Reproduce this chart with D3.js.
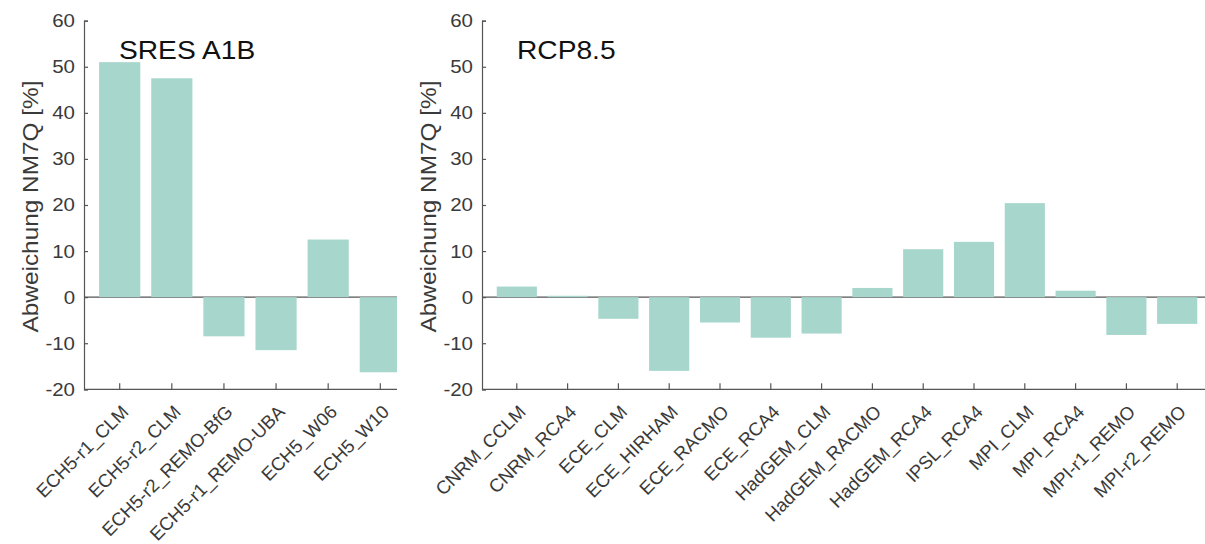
<!DOCTYPE html>
<html>
<head>
<meta charset="utf-8">
<script src="https://cdn.jsdelivr.net/npm/d3@7"></script>
<style>
  html, body { margin: 0; padding: 0; background: #fff; }
  svg { display: block; font-family: "Liberation Sans", Arial, sans-serif; }
</style>
</head>
<body>
<svg id="chart" width="1205" height="544"></svg>
<script>
// ---- data ----
const leftCategories = ["ECH5-r1_CLM", "ECH5-r2_CLM", "ECH5-r2_REMO-BfG", "ECH5-r1_REMO-UBA", "ECH5_W06", "ECH5_W10"];
const leftValues = [51.0, 47.5, -8.5, -11.5, 12.5, -16.3];
const rightCategories = ["CNRM_CCLM", "CNRM_RCA4", "ECE_CLM", "ECE_HIRHAM", "ECE_RACMO", "ECE_RCA4", "HadGEM_CLM", "HadGEM_RACMO", "HadGEM_RCA4", "IPSL_RCA4", "MPI_CLM", "MPI_RCA4", "MPI-r1_REMO", "MPI-r2_REMO"];
const rightValues = [2.3, 0.3, -4.7, -16.0, -5.5, -8.8, -7.9, 2.0, 10.4, 12.0, 20.4, 1.4, -8.2, -5.8];
const yTickValues = [-20, -10, 0, 10, 20, 30, 40, 50, 60];
const panelTitles = ["SRES A1B", "RCP8.5"];
const yLabel = "Abweichung NM7Q [%]";

// ---- styles ----
const barColor = "#a6d6cc";
const axisColor = "#555";
const textColor = "#3a3a3a";

const svg = d3.select("#chart");
const yTop = 20.7, yBottom = 389.3;

function panel(id, cats, vals, title, axisX, rangeEnd, clipEnd) {
  const g = svg.append("g");
  const y = d3.scaleLinear().domain([-20, 60]).range([yBottom, yTop]);
  const x = d3.scaleBand().domain(cats).range([axisX, rangeEnd])
    .paddingInner(0.21).paddingOuter(0.29).align(0.5);

  svg.append("clipPath").attr("id", "clip" + id)
    .append("rect").attr("x", axisX).attr("y", 0)
    .attr("width", clipEnd - axisX).attr("height", 544);

  const plot = g.append("g").attr("clip-path", "url(#clip" + id + ")");

  // zero line
  plot.append("line")
    .attr("x1", axisX).attr("x2", clipEnd)
    .attr("y1", y(0)).attr("y2", y(0))
    .attr("stroke", axisColor).attr("stroke-width", 1.2);

  // bars
  plot.selectAll("rect.bar").data(vals).enter().append("rect")
    .attr("class", "bar")
    .attr("x", (d, i) => x(cats[i]))
    .attr("width", x.bandwidth())
    .attr("y", d => y(Math.max(0, d)))
    .attr("height", d => Math.abs(y(d) - y(0)))
    .attr("fill", barColor);

  // y axis
  const yAxis = d3.axisLeft(y).tickValues(yTickValues).tickSize(-4).tickPadding(9).tickFormat(d => String(d));
  const ya = g.append("g").attr("transform", `translate(${axisX},0)`).call(yAxis);
  ya.select(".domain").attr("stroke", axisColor).attr("stroke-width", 1.2);
  ya.selectAll(".tick line").attr("stroke", axisColor).attr("stroke-width", 1.2);
  ya.selectAll(".tick text")
    .attr("fill", textColor)
    .attr("font-size", "18.6px")
    .attr("font-family", "Liberation Sans, Arial, sans-serif")
    .attr("x", -9 / 1.1)
    .attr("transform", "scale(1.1,1)");

  // x axis
  const xAxis = d3.axisBottom(x).tickSize(-6).tickSizeOuter(0).tickFormat("");
  const xa = g.append("g").attr("transform", `translate(0,${yBottom})`).call(xAxis);
  xa.select(".domain").attr("stroke", axisColor).attr("stroke-width", 1.2)
    .attr("d", `M${axisX},0H${clipEnd}`);
  xa.selectAll(".tick line").attr("stroke", axisColor).attr("stroke-width", 1.2);

  // x labels rotated
  g.selectAll("text.xl").data(cats).enter().append("text")
    .attr("class", "xl")
    .attr("transform", d => `translate(${x(d) + x.bandwidth() / 2 + 10},${413}) rotate(-45)`)
    .attr("text-anchor", "end")
    .attr("font-size", "18.5px")
    .attr("fill", textColor)
    .text(d => d);

  // y label
  g.append("text")
    .attr("transform", `translate(${axisX - 46},${206.5}) rotate(-90)`)
    .attr("text-anchor", "middle")
    .attr("font-size", "22px")
    .attr("textLength", 252)
    .attr("lengthAdjust", "spacingAndGlyphs")
    .attr("fill", textColor)
    .text(yLabel);

  // title
  g.append("text")
    .attr("transform", `translate(${axisX + 35},59) scale(1.1,1)`)
    .attr("font-size", "25.6px")
    .attr("fill", "#111")
    .text(title);
}

panel("L", leftCategories, leftValues, panelTitles[0], 84, 416, 397);
panel("R", rightCategories, rightValues, panelTitles[1], 482, 1212, 1205);
</script>
</body>
</html>
